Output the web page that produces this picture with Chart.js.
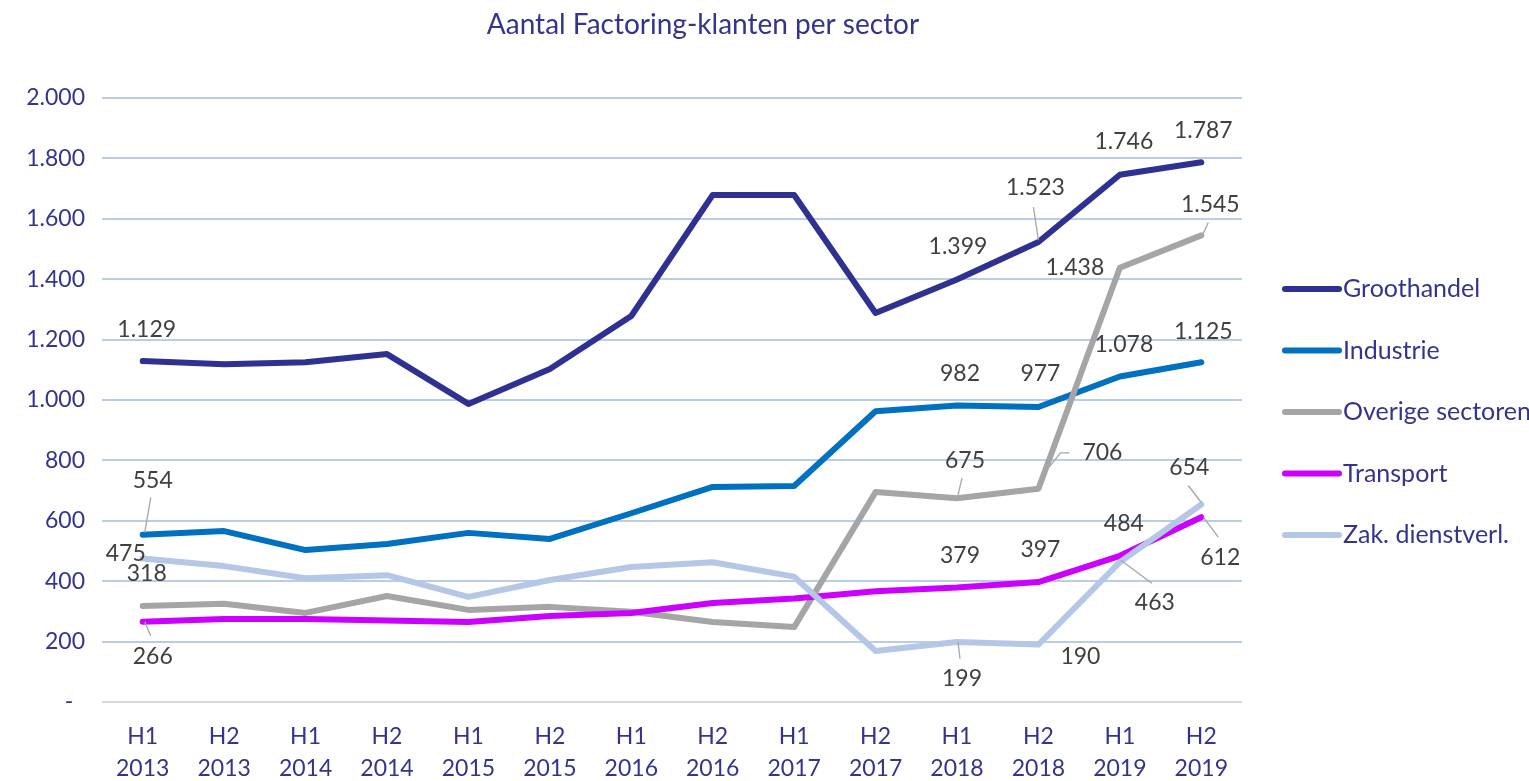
<!DOCTYPE html>
<html>
<head>
<meta charset="utf-8">
<script src="https://cdn.jsdelivr.net/npm/chart.js@4.4.1/dist/chart.umd.min.js"></script>
<style>
  html, body { margin: 0; padding: 0; background: #fff; }
  #wrap { width: 1529px; height: 781px; }
</style>
</head>
<body>
<div id="wrap"><canvas id="myChart"></canvas></div>
<script>
const halves = ['H1', 'H2', 'H1', 'H2', 'H1', 'H2', 'H1', 'H2', 'H1', 'H2', 'H1', 'H2', 'H1', 'H2'];
const years = ['2013', '2013', '2014', '2014', '2015', '2015', '2016', '2016', '2017', '2017', '2018', '2018', '2019', '2019'];

const groothandel = [1129, 1118, 1125, 1152, 987, 1103, 1278, 1679, 1679, 1288, 1399, 1523, 1746, 1787];
const industrie = [554, 566, 503, 523, 560, 540, 625, 712, 715, 963, 982, 977, 1078, 1125];
const overige = [318, 325, 295, 351, 305, 315, 299, 265, 248, 695, 675, 706, 1438, 1545];
const transport = [266, 275, 275, 270, 265, 285, 295, 328, 343, 367, 379, 397, 484, 612];
const zakelijk = [475, 450, 410, 420, 348, 404, 447, 463, 415, 169, 199, 190, 463, 654];

const yTicks = [0, 200, 400, 600, 800, 1000, 1200, 1400, 1600, 1800, 2000];

// which points get a value label: [index, dx, dy, leader (optional, relative to point)]
const labelsGroot = [[0, 4, -31], [10, 1, -33], [11, -3, -54, [[-5, -35], [0, -2]]], [12, 4, -33], [13, 2, -32]];
const labelsInd = [[0, 10, -54, [[8, -37], [2, -2]]], [10, 3, -32], [11, 2, -33], [12, 4, -32], [13, 2, -31]];
const labelsOv = [[0, 4, -32], [10, 8, -38, [[5, -20], [1, -3]]], [11, 64, -36, [[31, -36], [22, -36], [11, -22]]], [12, -45, 0], [13, 9, -31, [[7, -13], [2, -2]]]];
const labelsTr = [[0, 10, 35, [[2, 0], [8, 14]]], [10, 3, -32], [11, 2, -33], [12, 4, -32], [13, 19, 40, [[2, 0], [17, 20]]]];
const labelsZak = [[0, -17, -5], [10, 5, 37, [[1, 0], [3, 17]]], [11, 42, 12], [12, 35, 40, [[1, -2], [32, 21]]], [13, -12, -37, [[-13, -19], [0, -2]]]];

const FONT = 'Lato, "Open Sans", sans-serif';
const BLUE_TXT = '#34348f';

function nl(v) {
    return String(v).replace(/\B(?=(\d{3})+(?!\d))/g, '.');
}

const valueLabels = {
    id: 'valueLabels',
    afterDatasetsDraw(chart) {
        const ctx = chart.ctx;
        ctx.save();
        ctx.font = '23px ' + FONT;
        ctx.fillStyle = '#404040';
        ctx.textAlign = 'center';
        ctx.textBaseline = 'middle';
        chart.data.datasets.forEach((ds, di) => {
            const meta = chart.getDatasetMeta(di);
            for (const lab of ds.valueLabels) {
                const pt = meta.data[lab[0]];
                if (lab[3]) {
                    ctx.strokeStyle = '#a6a6a6';
                    ctx.lineWidth = 1.3;
                    ctx.beginPath();
                    lab[3].forEach((p, k) => {
                        if (k === 0) ctx.moveTo(pt.x + p[0], pt.y + p[1]);
                        else ctx.lineTo(pt.x + p[0], pt.y + p[1]);
                    });
                    ctx.stroke();
                }
                ctx.fillText(nl(ds.data[lab[0]]), pt.x + lab[1], pt.y + lab[2]);
            }
        });
        ctx.restore();
    }
};

const sideLegend = {
    id: 'sideLegend',
    afterDraw(chart) {
        const ctx = chart.ctx;
        ctx.save();
        ctx.font = '25px ' + FONT;
        ctx.textBaseline = 'middle';
        ctx.lineCap = 'round';
        chart.data.datasets.forEach((ds, i) => {
            const y = 289 + i * 61.5;
            ctx.strokeStyle = ds.borderColor;
            ctx.lineWidth = 6;
            ctx.beginPath();
            ctx.moveTo(1285, y);
            ctx.lineTo(1339, y);
            ctx.stroke();
            ctx.fillStyle = BLUE_TXT;
            ctx.fillText(ds.label, 1343, y);
        });
        // title
        ctx.font = '28px ' + FONT;
        ctx.textAlign = 'center';
        ctx.fillText('Aantal Factoring-klanten per sector', 703, 25);
        ctx.restore();
    }
};

function series(label, data, color, labs, order) {
    return {
        label: label,
        data: data,
        borderColor: color,
        backgroundColor: color,
        borderWidth: 6,
        pointRadius: 0,
        tension: 0,
        borderJoinStyle: 'round',
        borderCapStyle: 'round',
        order: order,
        valueLabels: labs
    };
}

const ctx = document.getElementById('myChart').getContext('2d');
const myChart = new Chart(ctx, {
    type: 'line',
    data: {
        labels: halves.map((h, i) => [h, years[i]]),
        datasets: [
            series('Groothandel', groothandel, '#2e3192', labelsGroot, 5),
            series('Industrie', industrie, '#0070c0', labelsInd, 4),
            series('Overige sectoren', overige, '#a5a5a5', labelsOv, 3),
            series('Transport', transport, '#cc00ff', labelsTr, 2),
            series('Zak. dienstverl.', zakelijk, '#b4c7e7', labelsZak, 1)
        ]
    },
    options: {
        responsive: true,
        maintainAspectRatio: false,
        animation: false,
        layout: { padding: { left: 0, right: 287, top: 98, bottom: 0 } },
        plugins: {
            legend: { display: false },
            title: { display: false },
            tooltip: { enabled: false }
        },
        scales: {
            x: {
                offset: true,
                grid: { display: false },
                border: { display: false },
                ticks: {
                    color: BLUE_TXT,
                    font: { family: FONT, size: 23, lineHeight: 1.4 },
                    padding: 10,
                    maxRotation: 0,
                    autoSkip: false
                },
                afterFit(axis) { axis.height = 79; }
            },
            y: {
                min: 0,
                max: 2000,
                afterBuildTicks(axis) { axis.ticks = yTicks.map(v => ({ value: v })); },
                grid: {
                    color: (c) => c.tick && c.tick.value === 0 ? '#d9d9d9' : '#b9cde5',
                    lineWidth: 2,
                    drawTicks: false
                },
                border: { display: false },
                ticks: {
                    color: BLUE_TXT,
                    font: { family: FONT, size: 23 },
                    padding: 17,
                    callback: (v) => v === 0 ? '-  ' : nl(v)
                },
                afterFit(axis) { axis.width = 102; }
            }
        }
    },
    plugins: [valueLabels, sideLegend]
});
</script>
</body>
</html>
